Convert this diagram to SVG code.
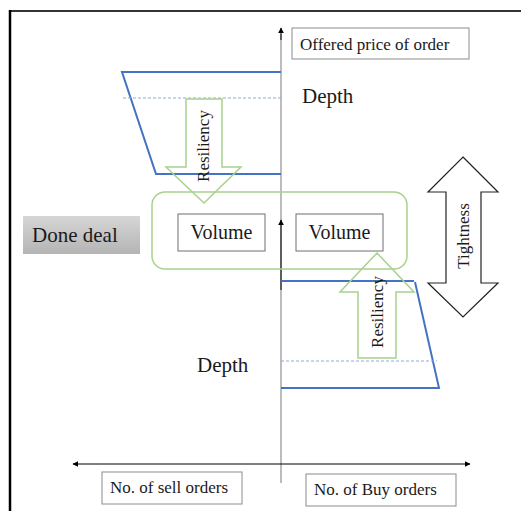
<svg xmlns="http://www.w3.org/2000/svg" width="521" height="511" viewBox="0 0 521 511">
<style>
text{font-family:"Liberation Serif","Times New Roman",serif;fill:#1a1a1a}
.lbl{fill:#fff;stroke:#8c8c8c;stroke-width:1}
.vol{fill:#fff;stroke:#6f6f6f;stroke-width:1}
.blue{fill:none;stroke:#4472C4;stroke-width:2}
.dash{fill:none;stroke:#8EA9DB;stroke-width:1;stroke-dasharray:3 2}
.green{fill:none;stroke:#A9D18E;stroke-width:1.5}
.ax{stroke:#000;stroke-width:1}
</style>
<defs>
<linearGradient id="gg" x1="0" y1="0" x2="0" y2="1">
<stop offset="0" stop-color="#d6d6d6"/>
<stop offset="1" stop-color="#b4b4b4"/>
</linearGradient>
<marker id="ah" viewBox="0 0 10 10" refX="9" refY="5" markerWidth="6" markerHeight="6" orient="auto-start-reverse" markerUnits="userSpaceOnUse">
<path d="M0,0 L10,5 L0,10 z" fill="#000"/>
</marker>
</defs>
<rect width="521" height="511" fill="#fff"/>
<g id="frame">
<line x1="9" y1="11" x2="521" y2="11" stroke="#333" stroke-width="2"/>
<line x1="10" y1="10" x2="10" y2="511" stroke="#000" stroke-width="2.5"/>
</g>
<g id="connectors">
<line x1="281" y1="483" x2="281" y2="34" stroke="#a6a6a6" stroke-width="1.5"/>
<line x1="281" y1="40" x2="281" y2="28" class="ax" marker-end="url(#ah)"/>
<line x1="281" y1="290" x2="281" y2="220" class="ax" stroke-width="1.3" marker-end="url(#ah)"/>
<line x1="73" y1="464" x2="470" y2="464" class="ax" marker-start="url(#ah)" marker-end="url(#ah)"/>
<polyline class="blue" points="281,72 122,72 156,174 281,174"/>
<line class="dash" x1="123" y1="98" x2="281" y2="98"/>
<polyline class="blue" points="281,281 414,281"/>
<polyline class="blue" points="415,282 439,388 281,388"/>
<line class="dash" x1="281" y1="361" x2="437" y2="361"/>
</g>
<g id="volume-group">
<rect class="green" x="152" y="192" width="255" height="77" rx="13"/>
</g>
<g id="resiliency-down">
<path class="green" d="M186,99 L222,99 L222,167 L241,167 L204,203 L166,167 L186,167 Z"/>
<text transform="translate(209,146) rotate(-90)" text-anchor="middle" font-size="17">Resiliency</text>
</g>
<g id="resiliency-up">
<path class="green" d="M377,253 L414,292 L396,292 L396,358 L358,358 L358,292 L340,292 Z"/>
<text transform="translate(383,312) rotate(-90)" text-anchor="middle" font-size="17">Resiliency</text>
</g>
<g id="tightness">
<path d="M463,157 L498,192 L481,192 L481,283 L498,283 L463,317 L428,283 L446,283 L446,192 L428,192 Z" fill="#fff" stroke="#222" stroke-width="1.2"/>
<text transform="translate(469,236) rotate(-90)" text-anchor="middle" font-size="17">Tightness</text>
</g>
<g id="price-label">
<rect class="lbl" x="292" y="28" width="177" height="31"/>
<text x="300" y="50" font-size="17">Offered price of order</text>
</g>
<g id="depth-upper">
<text x="302" y="103" font-size="21">Depth</text>
</g>
<g id="depth-lower">
<text x="197" y="372" font-size="21">Depth</text>
</g>
<g id="done-deal">
<rect x="23" y="216" width="117" height="38" fill="url(#gg)"/>
<text x="32" y="242" font-size="21">Done deal</text>
</g>
<g id="volume-left">
<rect class="vol" x="178" y="214" width="87" height="37"/>
<text x="221.5" y="239" font-size="20" text-anchor="middle">Volume</text>
</g>
<g id="volume-right">
<rect class="vol" x="296" y="214" width="87" height="37"/>
<text x="339.5" y="239" font-size="20" text-anchor="middle">Volume</text>
</g>
<g id="sell-label">
<rect class="lbl" x="102" y="472" width="140" height="32"/>
<text x="110" y="493" font-size="17">No. of sell orders</text>
</g>
<g id="buy-label">
<rect class="lbl" x="306" y="474" width="150" height="32"/>
<text x="314" y="495" font-size="17">No. of Buy orders</text>
</g>
</svg>
